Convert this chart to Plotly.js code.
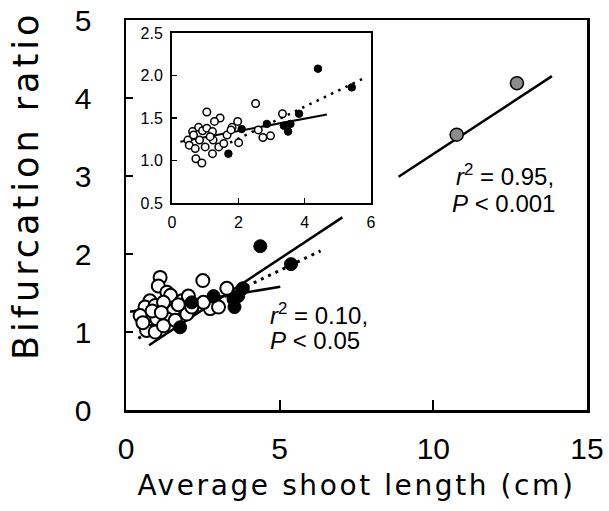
<!DOCTYPE html>
<html>
<head>
<meta charset="utf-8">
<script src="https://cdn.plot.ly/plotly-3.0.1.min.js"></script>
<style>
html,body{margin:0;padding:0;background:#fff;}
#chart{width:609px;height:511px;}
.xtitle{letter-spacing:2.6px;}
g.annotation[data-index="4"] text{letter-spacing:4px;}
</style>
</head>
<body>
<div id="chart"></div>
<script>
// ---- Main panel data ----
var mainOpenX = [1.11,1.05,1.33,1.45,2.50,0.78,0.62,0.95,1.22,1.82,2.03,1.54,0.73,1.00,0.46,1.33,0.67,0.95,1.98,2.74,3.01,3.28,2.52,2.14,1.22,1.60,0.85,1.15,0.55,1.70];
var mainOpenY = [1.70,1.59,1.51,1.47,1.66,1.40,1.32,1.34,1.38,1.40,1.46,1.27,1.17,1.17,1.21,1.17,1.02,1.00,1.23,1.30,1.32,1.56,1.38,1.32,1.08,1.15,1.27,1.25,1.12,1.35];
var mainFilledX = [4.37,5.37,3.80,3.53,3.50,3.65,2.85,2.14,1.76];
var mainFilledY = [2.10,1.87,1.56,1.32,1.42,1.46,1.46,1.38,1.06];
var greyX = [10.76,12.72];
var greyY = [3.53,4.19];
// fitted lines (end points)
var fitAllX = [0.75,7.04],   fitAllY = [0.83,2.47];
var fitOpenX = [0.13,5.02],  fitOpenY = [1.26,1.58];
var fitFilledX = [0.40,6.33], fitFilledY = [0.92,2.04];
var fitGreyX = [8.87,13.86], fitGreyY = [2.99,4.28];
// ---- Inset data ----
var insOpenX = [1.05,1.45,1.28,1.98,2.52,3.33,0.80,0.62,0.92,1.05,1.22,0.48,0.52,0.70,0.72,0.90,0.83,1.00,1.24,1.41,1.22,1.56,1.66,1.81,1.78,2.01,2.60,2.74,2.97,0.65,1.15];
var insOpenY = [1.57,1.50,1.46,1.46,1.67,1.55,1.39,1.34,1.35,1.38,1.34,1.24,1.18,1.14,1.02,0.97,1.24,1.16,1.24,1.16,1.08,1.20,1.30,1.39,1.36,1.21,1.36,1.27,1.29,1.30,1.28];
var insFilledX = [4.40,5.42,3.83,2.86,2.10,3.37,3.57,3.50,1.70];
var insFilledY = [2.08,1.86,1.55,1.43,1.37,1.41,1.43,1.34,1.08];
var insFitOpenX = [0.25,4.67],   insFitOpenY = [1.22,1.54];
var insFitFilledX = [1.75,5.85], insFitFilledY = [1.21,1.98];
// ---- Axis ticks ----
var mainXTicks = [0,5,10,15];
var mainYTicks = [0,1,2,3,4,5];
var insXTicks = [0,2,4,6];
var insYTicks = [0.5,1.0,1.5,2.0,2.5];
var insYTickText = ['0.5','1.0','1.5','2.0','2.5'];

function line(x,y,w,dash,xa,ya){
  return {x:x,y:y,type:'scatter',mode:'lines',xaxis:xa,yaxis:ya,
    line:{color:'#000',width:w,dash:dash},hoverinfo:'skip',showlegend:false};
}
function pts(x,y,size,fill,lw,xa,ya){
  return {x:x,y:y,type:'scatter',mode:'markers',xaxis:xa,yaxis:ya,showlegend:false,
    marker:{size:size,color:fill,line:{color:'#000',width:lw}}};
}

var traces = [
  line(fitAllX,fitAllY,2.5,'solid','x','y'),
  line(fitOpenX,fitOpenY,2.5,'solid','x','y'),
  line(fitFilledX,fitFilledY,3,'3px,5px','x','y'),
  line(fitGreyX,fitGreyY,2.5,'solid','x','y'),
  pts(mainOpenX,mainOpenY,13,'#fff',2,'x','y'),
  pts(mainFilledX,mainFilledY,13,'#000',1,'x','y'),
  pts(greyX,greyY,13,'#8c8c8c',1.5,'x','y'),
  line(insFitOpenX,insFitOpenY,2,'solid','x2','y2'),
  line(insFitFilledX,insFitFilledY,2.5,'2.5px,5.5px','x2','y2'),
  pts(insOpenX,insOpenY,7.5,'#fff',1.5,'x2','y2'),
  pts(insFilledX,insFilledY,7.5,'#000',1,'x2','y2')
];

var tickFont = {family:'"Liberation Sans", Arial, sans-serif', size:30, color:'#000'};
var titleFont = {family:'"DejaVu Sans", sans-serif', size:28, color:'#000'};
var annFont = {family:'"Liberation Sans", Arial, sans-serif', size:24, color:'#000'};

var layout = {
  width:609, height:511,
  margin:{l:126,r:22,t:20,b:101,pad:0},
  paper_bgcolor:'#fff', plot_bgcolor:'#fff',
  showlegend:false,
  xaxis:{domain:[0,1],range:[0,15],tickvals:mainXTicks,ticks:'inside',ticklen:10,tickwidth:2,tickcolor:'#000',
    showline:true,mirror:true,linecolor:'#000',linewidth:2.5,showgrid:false,zeroline:false,
    tickfont:tickFont,ticklabelstandoff:10,
    title:{text:'Average shoot length (cm)',font:titleFont,standoff:12}},
  yaxis:{domain:[0,1],range:[0,5],tickvals:mainYTicks,ticks:'inside',ticklen:7,tickwidth:2,tickcolor:'#000',
    showline:true,mirror:true,linecolor:'#000',linewidth:2.5,showgrid:false,zeroline:false,
    tickfont:tickFont,ticklabelstandoff:26},
  xaxis2:{domain:[0.0998,0.5315],anchor:'y2',range:[0,6],tickvals:insXTicks,ticks:'inside',ticklen:5,tickwidth:1.5,tickcolor:'#000',
    showline:true,mirror:true,linecolor:'#000',linewidth:2,showgrid:false,zeroline:false,
    tickfont:{family:'"Liberation Sans", Arial, sans-serif',size:16,color:'#000'},ticklabelstandoff:4},
  yaxis2:{domain:[0.5308,0.9667],anchor:'x2',range:[0.5,2.5],tickvals:insYTicks,ticktext:insYTickText,ticks:'inside',ticklen:5,tickwidth:1.5,tickcolor:'#000',
    showline:true,mirror:true,linecolor:'#000',linewidth:2,showgrid:false,zeroline:false,
    tickfont:{family:'"Liberation Sans", Arial, sans-serif',size:16,color:'#000'},ticklabelstandoff:4},
  annotations:[
    {xref:'paper',yref:'paper',x:(268-126)/461,y:(410-314)/390,xanchor:'left',yanchor:'middle',showarrow:false,
     text:'<i>r</i><sup>2</sup> = 0.10,',font:annFont},
    {xref:'paper',yref:'paper',x:(268-126)/461,y:(410-340)/390,xanchor:'left',yanchor:'middle',showarrow:false,
     text:'<i>P</i> &lt; 0.05',font:annFont},
    {xref:'paper',yref:'paper',x:(454-126)/461,y:(410-175)/390,xanchor:'left',yanchor:'middle',showarrow:false,
     text:'<i>r</i><sup>2</sup> = 0.95,',font:annFont},
    {xref:'paper',yref:'paper',x:(450-126)/461,y:(410-203)/390,xanchor:'left',yanchor:'middle',showarrow:false,
     text:'<i>P</i> &lt; 0.001',font:annFont},
    {xref:'paper',yref:'paper',x:(26-126)/461,y:(410-186)/390,xanchor:'center',yanchor:'middle',showarrow:false,
     textangle:-90,text:'Bifurcation ratio',font:{family:'"DejaVu Sans", sans-serif',size:35,color:'#000'}}
  ]
};

Plotly.newPlot('chart',traces,layout,{staticPlot:true,displayModeBar:false});
</script>
</body>
</html>
